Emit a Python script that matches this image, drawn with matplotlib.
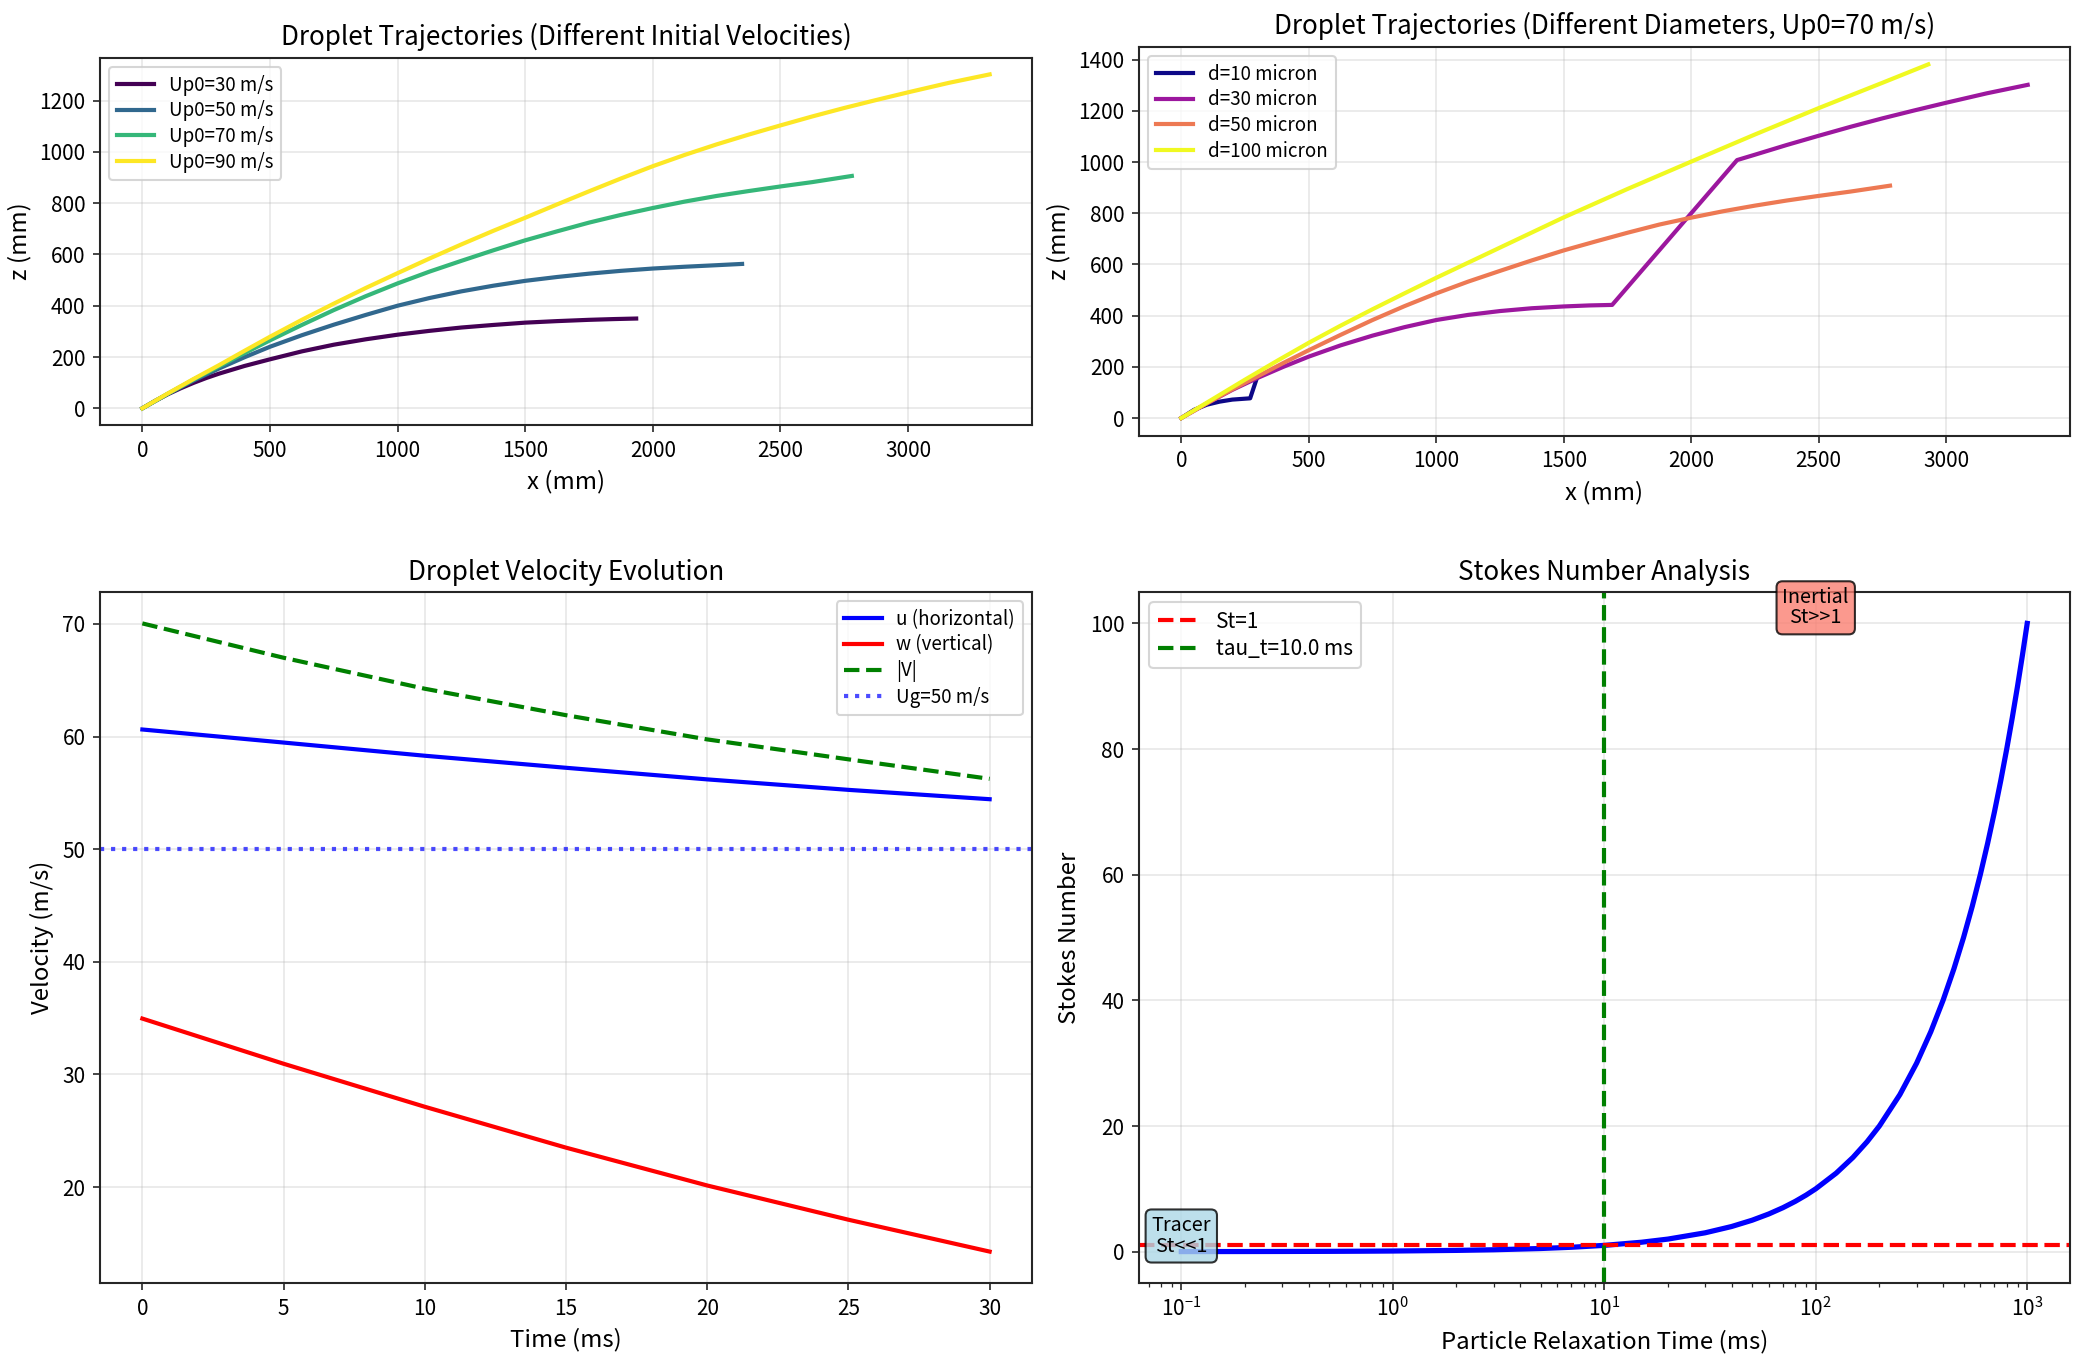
import matplotlib
matplotlib.use('Agg')
import matplotlib.pyplot as plt

plt.rcParams['font.family'] = ['Noto Sans CJK SC', 'DejaVu Sans']
plt.rcParams['axes.edgecolor'] = '0.15'
plt.rcParams['axes.linewidth'] = 1.0
plt.rcParams['xtick.color'] = '0.15'
plt.rcParams['ytick.color'] = '0.15'
plt.rcParams['xtick.labelcolor'] = 'black'
plt.rcParams['ytick.labelcolor'] = 'black'
plt.rcParams['xtick.labelsize'] = 10
plt.rcParams['ytick.labelsize'] = 10

# ---------------- Panel 1 data: different initial velocities ----------------
v_labels = ['Up0=30 m/s', 'Up0=50 m/s', 'Up0=70 m/s', 'Up0=90 m/s']
v_colors = ['#440154', '#31688e', '#35b779', '#fde725']
x_v30 = [0, 50, 100, 150, 200, 250, 300, 400, 500, 625, 750, 875, 1000, 1125,
         1250, 1375, 1500, 1625, 1750, 1850, 1935]
z_v30 = [0, 29, 55, 78, 99, 118, 135, 165, 191, 222, 248, 269, 287, 302,
         315, 325, 334, 340, 345, 348, 350]
x_v50 = [0, 100, 200, 300, 400, 500, 625, 750, 875, 1000, 1125, 1250, 1375,
         1500, 1625, 1750, 1875, 2000, 2125, 2250, 2350]
z_v50 = [0, 56, 108, 155, 199, 240, 285, 326, 364, 400, 430, 456, 478,
         497, 512, 525, 536, 545, 552, 558, 563]
x_v70 = [0, 100, 200, 300, 400, 500, 625, 750, 875, 1000, 1125, 1250, 1375,
         1500, 1625, 1750, 1875, 2000, 2125, 2250, 2375, 2500, 2625, 2780]
z_v70 = [0, 57, 112, 163, 215, 265, 325, 383, 437, 487, 533, 575, 616,
         655, 690, 724, 754, 781, 806, 828, 847, 865, 882, 906]
x_v90 = [0, 100, 200, 300, 400, 500, 625, 750, 875, 1000, 1125, 1250, 1375,
         1500, 1625, 1750, 1875, 2000, 2125, 2250, 2375, 2500, 2625, 2750,
         2875, 3000, 3160, 3320]
z_v90 = [0, 58, 114, 168, 224, 279, 345, 408, 469, 527, 584, 639, 692,
         743, 795, 846, 896, 944, 988, 1029, 1067, 1103, 1138, 1171,
         1202, 1232, 1269, 1302]

# ---------------- Panel 2 data: different diameters ----------------
d_labels = ['d=10 micron', 'd=30 micron', 'd=50 micron', 'd=100 micron']
d_colors = ['#0d0887', '#9c179e', '#ed7953', '#f0f921']
x_d10 = [0, 50, 100, 150, 200, 270, 296]
z_d10 = [0, 32, 52, 64, 72, 77, 155]
x_d30 = [0, 100, 200, 300, 400, 500, 625, 750, 875, 1000, 1125, 1250, 1375,
         1500, 1600, 1690, 2180, 2250, 2375, 2500, 2625, 2750, 2875, 3000,
         3160, 3320]
z_d30 = [0, 57, 110, 157, 200, 240, 284, 322, 355, 383, 403, 418, 429,
         436, 440, 442, 1008, 1029, 1067, 1103, 1138, 1171, 1202, 1232,
         1269, 1302]
x_d50 = [0, 100, 200, 300, 400, 500, 625, 750, 875, 1000, 1125, 1250, 1375,
         1500, 1625, 1750, 1875, 2000, 2125, 2250, 2375, 2500, 2625, 2780]
z_d50 = [0, 57, 112, 163, 215, 265, 325, 383, 437, 487, 533, 575, 616,
         655, 690, 724, 756, 783, 808, 830, 850, 868, 885, 908]
x_d100 = [0, 125, 250, 375, 500, 625, 750, 875, 1000, 1250, 1500, 1750,
          2000, 2250, 2500, 2750, 2930]
z_d100 = [0, 75, 150, 223, 294, 361, 425, 487, 548, 666, 784, 895,
          1002, 1108, 1211, 1310, 1382]

# ---------------- Panel 3 data: velocity evolution ----------------
t_ms = [0, 5, 10, 15, 20, 25, 30]
u_vel = [60.63, 59.47, 58.30, 57.23, 56.20, 55.27, 54.44]
w_vel = [34.96, 30.95, 27.13, 23.50, 20.14, 17.10, 14.27]
v_mag = [70.05, 67.00, 64.25, 61.90, 59.75, 57.98, 56.25]
ug_value = 50

# ---------------- Panel 4 data: Stokes number ----------------
tau_p = [0.1, 0.2, 0.3, 0.5, 0.7, 1, 2, 3, 5, 7, 10, 15, 20, 30, 40, 50, 60,
         70, 80, 90, 100, 125, 150, 175, 200, 250, 300, 350, 400, 450, 500,
         550, 600, 650, 700, 750, 800, 850, 900, 950, 1000]
stokes = [0.01, 0.02, 0.03, 0.05, 0.07, 0.1, 0.2, 0.3, 0.5, 0.7, 1, 1.5, 2,
          3, 4, 5, 6, 7, 8, 9, 10, 12.5, 15, 17.5, 20, 25, 30, 35, 40, 45,
          50, 55, 60, 65, 70, 75, 80, 85, 90, 95, 100]
tau_t = 10.0
st_ref = 1

W, H, DPI = 2085, 1363, 150
fig = plt.figure(figsize=(W / DPI, H / DPI), dpi=DPI)


def box(l, t, r, b):
    return [l / W, 1 - b / H, (r - l) / W, (b - t) / H]


ax1 = fig.add_axes(box(100, 57.7, 1032, 425))
ax2 = fig.add_axes(box(1139, 46.7, 2070, 435.7))
ax3 = fig.add_axes(box(100, 592, 1032, 1283))
ax4 = fig.add_axes(box(1139, 592, 2069.5, 1283))

TITLE = 12.5
LABEL = 11.5
leg_kw = dict(labelspacing=0.25, handletextpad=0.8)

# Panel 1
for xs, zs, lab, col in zip([x_v30, x_v50, x_v70, x_v90],
                            [z_v30, z_v50, z_v70, z_v90], v_labels, v_colors):
    ax1.plot(xs, zs, color=col, lw=2, label=lab)
ax1.set_title('Droplet Trajectories (Different Initial Velocities)', fontsize=TITLE)
ax1.set_xlabel('x (mm)', fontsize=LABEL)
ax1.set_ylabel('z (mm)', fontsize=LABEL)
ax1.grid(True, alpha=0.3)
ax1.legend(loc='upper left', fontsize=9, **leg_kw)

# Panel 2
for xs, zs, lab, col in zip([x_d10, x_d30, x_d50, x_d100],
                            [z_d10, z_d30, z_d50, z_d100], d_labels, d_colors):
    ax2.plot(xs, zs, color=col, lw=2, label=lab)
ax2.set_title('Droplet Trajectories (Different Diameters, Up0=70 m/s)', fontsize=TITLE)
ax2.set_xlabel('x (mm)', fontsize=LABEL)
ax2.set_ylabel('z (mm)', fontsize=LABEL)
ax2.grid(True, alpha=0.3)
ax2.legend(loc='upper left', fontsize=9, **leg_kw)

# Panel 3
ax3.plot(t_ms, u_vel, color='blue', lw=2, label='u (horizontal)')
ax3.plot(t_ms, w_vel, color='red', lw=2, label='w (vertical)')
ax3.plot(t_ms, v_mag, color='green', lw=2, ls='--', label='|V|')
ax3.axhline(ug_value, color='blue', lw=2, ls=':', alpha=0.7, label=f'Ug={ug_value} m/s')
ax3.set_title('Droplet Velocity Evolution', fontsize=TITLE)
ax3.set_xlabel('Time (ms)', fontsize=LABEL)
ax3.set_ylabel('Velocity (m/s)', fontsize=LABEL)
ax3.grid(True, alpha=0.3)
ax3.legend(loc='upper right', fontsize=9, **leg_kw)

# Panel 4
ax4.semilogx(tau_p, stokes, color='blue', lw=2.5)
ax4.axhline(st_ref, color='red', ls='--', lw=2, label='St=1')
ax4.axvline(tau_t, color='green', ls='--', lw=2, label=f'tau_t={tau_t} ms')
ax4.set_title('Stokes Number Analysis', fontsize=TITLE)
ax4.set_xlabel('Particle Relaxation Time (ms)', fontsize=LABEL)
ax4.set_ylabel('Stokes Number', fontsize=LABEL)
ax4.grid(True, alpha=0.3)
ax4.legend(loc='upper left', fontsize=10, **leg_kw)
ax4.text(0.1, 0.01, 'Tracer\nSt<<1', ha='center', fontsize=9.5, linespacing=0.95,
         bbox=dict(boxstyle='round', facecolor='lightblue', alpha=0.8))
ax4.text(100, 100, 'Inertial\nSt>>1', ha='center', fontsize=9.5, linespacing=0.95,
         bbox=dict(boxstyle='round', facecolor='salmon', alpha=0.8))

fig.savefig('out.png', dpi=DPI)
